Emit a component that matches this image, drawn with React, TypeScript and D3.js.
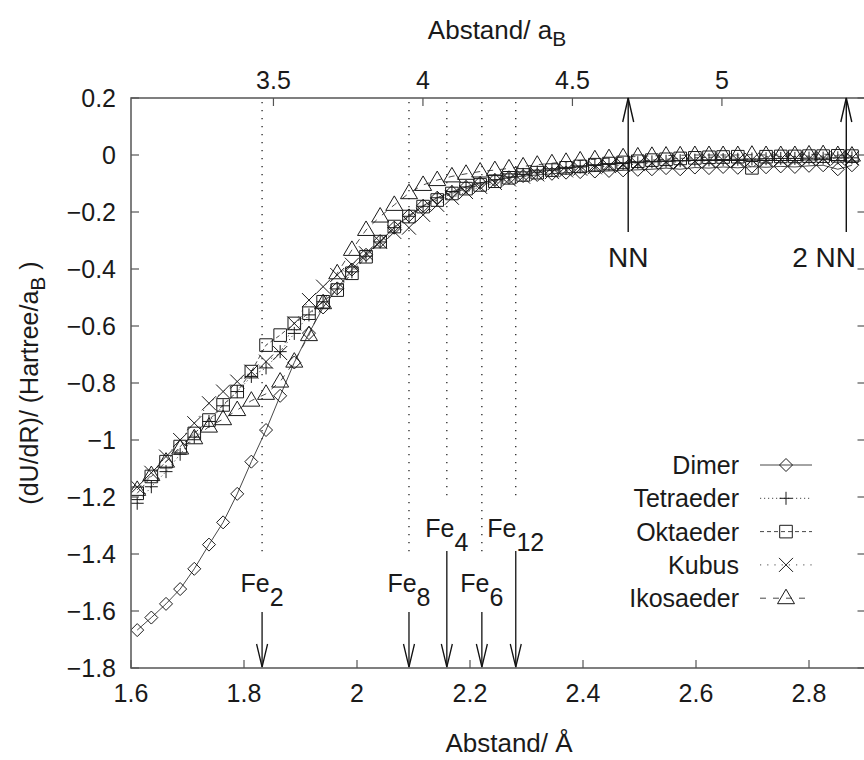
import React from "react";
import * as d3 from "d3";

const X_VALUES = [
  1.611, 1.636, 1.662, 1.687, 1.712, 1.738, 1.763, 1.788, 1.813, 1.839,
  1.864, 1.889, 1.915, 1.94, 1.965, 1.991, 2.016, 2.041, 2.066, 2.092,
  2.117, 2.142, 2.168, 2.193, 2.218, 2.244, 2.269, 2.294, 2.319, 2.345,
  2.37, 2.395, 2.421, 2.446, 2.471, 2.497, 2.522, 2.547, 2.572, 2.598,
  2.623, 2.648, 2.674, 2.699, 2.724, 2.75, 2.775, 2.8, 2.825, 2.851, 2.876,
];

const DIMER = [
  -1.667, -1.623, -1.575, -1.523, -1.452, -1.367, -1.289, -1.189, -1.076, -0.965,
  -0.845, -0.728, -0.625, -0.535, -0.468, -0.402, -0.35, -0.302, -0.255, -0.212,
  -0.178, -0.15, -0.13, -0.112, -0.098, -0.088, -0.08, -0.074, -0.07, -0.066,
  -0.062, -0.06, -0.058, -0.056, -0.054, -0.052, -0.05, -0.046, -0.05, -0.044,
  -0.046, -0.042, -0.045, -0.041, -0.043, -0.04, -0.042, -0.038, -0.036, -0.05, -0.036,
];

const TETRAEDER = [
  -1.222, -1.164, -1.111, -1.05, -0.99, -0.935, -0.88, -0.83, -0.777, -0.747,
  -0.69, -0.626, -0.561, -0.515, -0.47, -0.41, -0.355, -0.305, -0.255, -0.215,
  -0.18, -0.15, -0.128, -0.112, -0.098, -0.087, -0.077, -0.068, -0.06, -0.053,
  -0.047, -0.042, -0.037, -0.033, -0.03, -0.027, -0.024, -0.022, -0.02, -0.018,
  -0.017, -0.016, -0.015, -0.014, -0.013, -0.012, -0.012, -0.011, -0.011, -0.01, -0.01,
];

const OKTAEDER = [
  -1.187, -1.128, -1.076, -1.023, -0.977, -0.93, -0.877, -0.83, -0.76, -0.667,
  -0.632, -0.591, -0.555, -0.515, -0.474, -0.415, -0.357, -0.304, -0.251, -0.216,
  -0.181, -0.158, -0.135, -0.118, -0.105, -0.092, -0.08, -0.07, -0.062, -0.053,
  -0.045, -0.04, -0.034, -0.03, -0.026, -0.022, -0.018, -0.015, -0.012, -0.01,
  -0.008, -0.007, -0.006, -0.045, -0.006, -0.005, -0.005, -0.004, -0.004, -0.003, -0.004,
];

const KUBUS = [
  -1.165, -1.115, -1.058, -1.0, -0.941, -0.871, -0.83, -0.795, -0.76, -0.725,
  -0.695, -0.591, -0.509, -0.462, -0.421, -0.385, -0.345, -0.305, -0.27, -0.255,
  -0.21, -0.175, -0.15, -0.13, -0.112, -0.098, -0.086, -0.076, -0.068, -0.06,
  -0.054, -0.048, -0.043, -0.039, -0.035, -0.032, -0.029, -0.026, -0.024, -0.022,
  -0.02, -0.019, -0.018, -0.017, -0.016, -0.015, -0.014, -0.013, -0.012, -0.012, -0.011,
];

const IKOSAEDER = [
  -1.175, -1.123, -1.076, -1.03, -0.994, -0.953, -0.927, -0.895, -0.862, -0.838,
  -0.795, -0.725, -0.632, -0.52, -0.415, -0.333, -0.263, -0.216, -0.175, -0.134,
  -0.105, -0.088, -0.075, -0.066, -0.058, -0.053, -0.047, -0.04, -0.034, -0.029,
  -0.024, -0.019, -0.015, -0.011, -0.008, -0.005, -0.003, -0.002, -0.001, 0.0,
  0.0, 0.0, 0.0, 0.001, 0.0, 0.0, 0.0, 0.002, 0.003, 0.0, -0.002,
];

const X_TICKS = [1.6, 1.8, 2.0, 2.2, 2.4, 2.6, 2.8];
const X2_TICKS = [3.5, 4, 4.5, 5];
const Y_TICKS = [0.2, 0, -0.2, -0.4, -0.6, -0.8, -1, -1.2, -1.4, -1.6, -1.8];
const BOHR = 0.529177;

const CLUSTER_NAMES = ["2", "8", "4", "6", "12"];
const CLUSTER_POS = [1.832, 2.092, 2.159, 2.221, 2.281];
const CLUSTER_HIGH = [false, false, true, false, true];

const NN_NAMES = ["NN", "2 NN"];
const NN_POS = [2.48, 2.866];

const SERIES_NAMES = ["Dimer", "Tetraeder", "Oktaeder", "Kubus", "Ikosaeder"];
const SERIES_DATA = [DIMER, TETRAEDER, OKTAEDER, KUBUS, IKOSAEDER];
const SERIES_SYMBOL = ["diamond", "plus", "square", "cross", "triangle"];
const SERIES_DASH = ["none", "1.2 2.8", "4 3", "1.2 6", "6 7"];

const W = 864;
const H = 760;
const LEFT = 131;
const RIGHT = 865.5;
const TOP = 98;
const BOTTOM = 668;
const FONT = "'Liberation Sans', Arial, Helvetica, sans-serif";
const FS = 25;
const TITLE_FS = 26;
const NN_FS = 28;
const AXIS_COLOR = "#555";

function symbolPath(kind: string, cx: number, cy: number): string {
  switch (kind) {
    case "diamond": {
      const s = 6.5;
      return `M${cx},${cy - s}L${cx + s},${cy}L${cx},${cy + s}L${cx - s},${cy}Z`;
    }
    case "plus": {
      const s = 6.5;
      return `M${cx - s},${cy}H${cx + s}M${cx},${cy - s}V${cy + s}`;
    }
    case "square": {
      const s = 6.3;
      return `M${cx - s},${cy - s}H${cx + s}V${cy + s}H${cx - s}Z`;
    }
    case "cross": {
      const s = 7;
      return `M${cx - s},${cy - s}L${cx + s},${cy + s}M${cx - s},${cy + s}L${cx + s},${cy - s}`;
    }
    default: {
      return `M${cx},${cy - 9}L${cx + 8.5},${cy + 5.5}L${cx - 8.5},${cy + 5.5}Z`;
    }
  }
}

export default function App() {
  const x = d3.scaleLinear().domain([1.6, 2.9]).range([LEFT, RIGHT]);
  const x2 = d3.scaleLinear().domain([1.6 / BOHR, 2.9 / BOHR]).range([LEFT, RIGHT]);
  const y = d3.scaleLinear().domain([-1.8, 0.2]).range([BOTTOM, TOP]);

  const line = d3
    .line<number>()
    .x((_, i) => x(X_VALUES[i]))
    .y((d) => y(d));

  const fmt = (v: number) => {
    const s = d3.format("")(Math.round(v * 10) / 10);
    return s.replace("-", "\u2212");
  };

  const legendX = 739;
  const legendLine0 = 760;
  const legendLine1 = 812;
  const legendY0 = 465;
  const legendDY = 33.3;

  return (
    <svg
      width={W}
      height={H}
      style={{ position: "absolute", left: 0, top: 0, background: "#fff" }}
      fontFamily={FONT}
      fontSize={FS}
    >
      <defs>
        <clipPath id="plotclip">
          <rect x={LEFT} y={TOP} width={RIGHT - LEFT} height={BOTTOM - TOP} />
        </clipPath>
      </defs>
      <rect x={0} y={0} width={W} height={H} fill="#fff" />

      {/* dotted cluster lines */}
      {CLUSTER_POS.map((p, i) => (
        <line
          key={"dl" + i}
          x1={x(p)}
          x2={x(p)}
          y1={TOP + 4}
          y2={CLUSTER_HIGH[i] ? 502 : 558}
          stroke="#111"
          strokeWidth={1.2}
          strokeDasharray="1.3 6.7"
        />
      ))}

      {/* series */}
      <g clipPath="url(#plotclip)">
        {SERIES_DATA.map((data, si) => (
          <path
            key={"ln" + si}
            d={line(data) || ""}
            fill="none"
            stroke="#333"
            strokeWidth={0.9}
            strokeDasharray={SERIES_DASH[si] === "none" ? undefined : SERIES_DASH[si]}
          />
        ))}
        {SERIES_DATA.map((data, si) => (
          <g key={"pt" + si}>
            {data.map((v, i) => (
              <path
                key={i}
                d={symbolPath(SERIES_SYMBOL[si], x(X_VALUES[i]), y(v))}
                fill="none"
                stroke="#1a1a1a"
                strokeWidth={1}
              />
            ))}
          </g>
        ))}
      </g>

      {/* frame */}
      <rect
        x={LEFT}
        y={TOP}
        width={RIGHT - LEFT}
        height={BOTTOM - TOP}
        fill="none"
        stroke={AXIS_COLOR}
        strokeWidth={1.5}
      />

      {/* bottom ticks */}
      {X_TICKS.map((t) => (
        <g key={"xt" + t}>
          <line x1={x(t)} x2={x(t)} y1={BOTTOM} y2={BOTTOM - 8} stroke={AXIS_COLOR} strokeWidth={1.2} />
          <text x={x(t)} y={702} textAnchor="middle" fill="#1a1a1a">
            {fmt(t)}
          </text>
        </g>
      ))}

      {/* top ticks */}
      {X2_TICKS.map((t) => (
        <g key={"x2t" + t}>
          <line x1={x2(t)} x2={x2(t)} y1={TOP} y2={TOP + 8} stroke={AXIS_COLOR} strokeWidth={1.2} />
          <text x={x2(t)} y={89} textAnchor="middle" fill="#1a1a1a">
            {fmt(t)}
          </text>
        </g>
      ))}

      {/* y ticks */}
      {Y_TICKS.map((t) => (
        <g key={"yt" + t}>
          <line x1={LEFT} x2={LEFT + 8} y1={y(t)} y2={y(t)} stroke={AXIS_COLOR} strokeWidth={1.2} />
          <line x1={RIGHT - 8} x2={RIGHT} y1={y(t)} y2={y(t)} stroke={AXIS_COLOR} strokeWidth={1.2} />
          <text x={116} y={y(t) + 9} textAnchor="end" fill="#1a1a1a">
            {fmt(t)}
          </text>
        </g>
      ))}

      {/* axis titles */}
      <text x={497} y={39} textAnchor="middle" fill="#1a1a1a" fontSize={TITLE_FS}>
        Abstand/ a<tspan dy={7} fontSize={21}>B</tspan>
      </text>
      <text x={509} y={752} textAnchor="middle" fill="#1a1a1a" fontSize={TITLE_FS}>
        Abstand/ Å
      </text>
      <text
        transform={`translate(38,383) rotate(-90)`}
        textAnchor="middle"
        fill="#1a1a1a"
      >
        (dU/dR)/ (Hartree/a<tspan dy={7} fontSize={21}>B</tspan>
        <tspan dy={-7}> )</tspan>
      </text>

      {/* cluster arrows and labels */}
      {CLUSTER_POS.map((p, i) => {
        const px = x(p);
        const top = CLUSTER_HIGH[i] ? 551 : 612;
        const lblY = CLUSTER_HIGH[i] ? 537 : 592;
        const tip = BOTTOM - 1;
        return (
          <g key={"ca" + i}>
            <line x1={px} x2={px} y1={top} y2={tip} stroke="#111" strokeWidth={1.3} />
            <path
              d={`M${px - 5.5},${tip - 23}L${px},${tip}L${px + 5.5},${tip - 23}`}
              fill="none"
              stroke="#111"
              strokeWidth={1.3}
            />
            <text x={px} y={lblY} textAnchor="middle" fill="#1a1a1a">
              Fe<tspan dy={14}>{CLUSTER_NAMES[i]}</tspan>
            </text>
          </g>
        );
      })}

      {/* neighbour arrows */}
      {NN_POS.map((p, i) => {
        const px = x(p);
        return (
          <g key={"nn" + i}>
            <line x1={px} x2={px} y1={232} y2={TOP} stroke="#111" strokeWidth={1.4} />
            <path
              d={`M${px - 5.5},${TOP + 24}L${px},${TOP}L${px + 5.5},${TOP + 24}`}
              fill="none"
              stroke="#111"
              strokeWidth={1.4}
            />
            <text
              x={i === 0 ? px : 856}
              y={267}
              textAnchor={i === 0 ? "middle" : "end"}
              fill="#1a1a1a"
              fontSize={NN_FS}
            >
              {NN_NAMES[i]}
            </text>
          </g>
        );
      })}

      {/* legend */}
      {SERIES_NAMES.map((name, si) => {
        const ly = legendY0 + si * legendDY;
        const mx = (legendLine0 + legendLine1) / 2;
        return (
          <g key={"lg" + si}>
            <text x={legendX} y={ly + 9} textAnchor="end" fill="#1a1a1a">
              {name}
            </text>
            <line
              x1={legendLine0}
              x2={legendLine1}
              y1={ly}
              y2={ly}
              stroke="#333"
              strokeWidth={0.9}
              strokeDasharray={SERIES_DASH[si] === "none" ? undefined : SERIES_DASH[si]}
            />
            <path d={symbolPath(SERIES_SYMBOL[si], mx, ly)} fill="none" stroke="#1a1a1a" strokeWidth={1} />
          </g>
        );
      })}
    </svg>
  );
}
